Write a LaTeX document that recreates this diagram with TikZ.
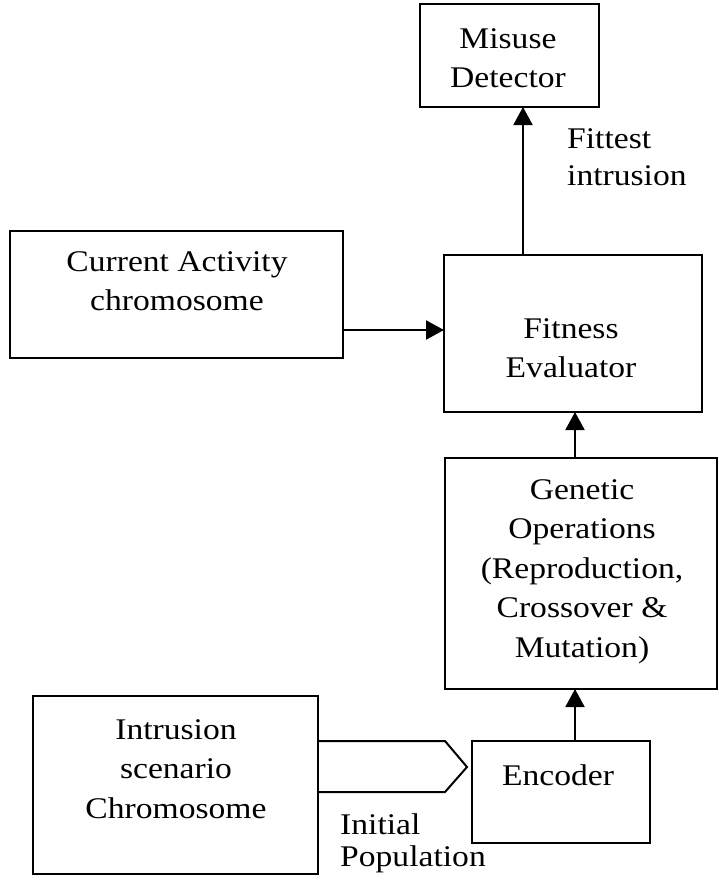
\documentclass[tikz,border=0pt]{standalone}
\usepackage{fontspec}
\setmainfont{Liberation Serif}[FakeStretch=1.12]
\usetikzlibrary{arrows.meta}
\begin{document}
\begin{tikzpicture}[x=1pt,y=-1pt,
  box/.style={draw,line width=2pt,inner sep=0pt,outer sep=0pt,rectangle},
  lbl/.style={inner sep=0pt,anchor=north,align=center,font=\fontsize{30}{39.5}\selectfont},
  note/.style={inner sep=0pt,anchor=north west,align=left,font=\fontsize{30}{37}\selectfont},
  flow/.style={line width=2pt,-{Triangle[length=18pt,width=19pt]}}]
\useasboundingbox (0,0) rectangle (719,884);

% boxes: centre, then size
\node[box,minimum width=179pt,minimum height=103pt] (misuse) at (509.5,55.5) {};
\node[box,minimum width=258pt,minimum height=157pt] (fit) at (573,333.5) {};
\node[box,minimum width=333pt,minimum height=127pt] (cur) at (176.5,294.5) {};
\node[box,minimum width=272pt,minimum height=231pt] (gen) at (581,573.5) {};
\node[box,minimum width=178pt,minimum height=102pt] (enc) at (561,792) {};
\node[box,minimum width=285pt,minimum height=178pt] (intr) at (175.5,785) {};

% texts
\node[lbl] (tmisuse) at (508,28) {Misuse\\Detector};
\node[lbl] (tcur) at (177,251) {Current Activity\\chromosome};
\node[lbl] (tfit) at (571,318) {Fitness\\Evaluator};
\node[lbl] (tgen) at (582,479) {Genetic\\Operations\\(Reproduction,\\Crossover \&\\Mutation)};
\node[lbl] (tenc) at (558,764) {Encoder};
\node[lbl] (tint) at (176,719) {Intrusion\\scenario\\Chromosome};
\node[note] (tfittest) at (567,128) {Fittest\\intrusion};
\node[note,font=\fontsize{30}{32}\selectfont] (tinit) at (340,813) {Initial\\Population};

% connectors
\coordinate (xa) at (523,0);
\coordinate (xb) at (575,0);
\coordinate (yc) at (0,330);
\draw[flow] (fit.north -| xa) -- (misuse.south -| xa);
\draw[flow] (cur.east |- yc) -- (fit.west |- yc);
\draw[flow] (gen.north -| xb) -- (fit.south -| xb);
\draw[flow] (enc.north -| xb) -- (gen.south -| xb);

% chevron carrying the initial population
\coordinate (ch1) at (445,741);
\coordinate (ch2) at (467,767);
\coordinate (ch3) at (445,792);
\draw[line width=2pt] (intr.east |- ch1) -- (ch1) -- (ch2) -- (ch3) -- (intr.east |- ch3);
\end{tikzpicture}
\end{document}
